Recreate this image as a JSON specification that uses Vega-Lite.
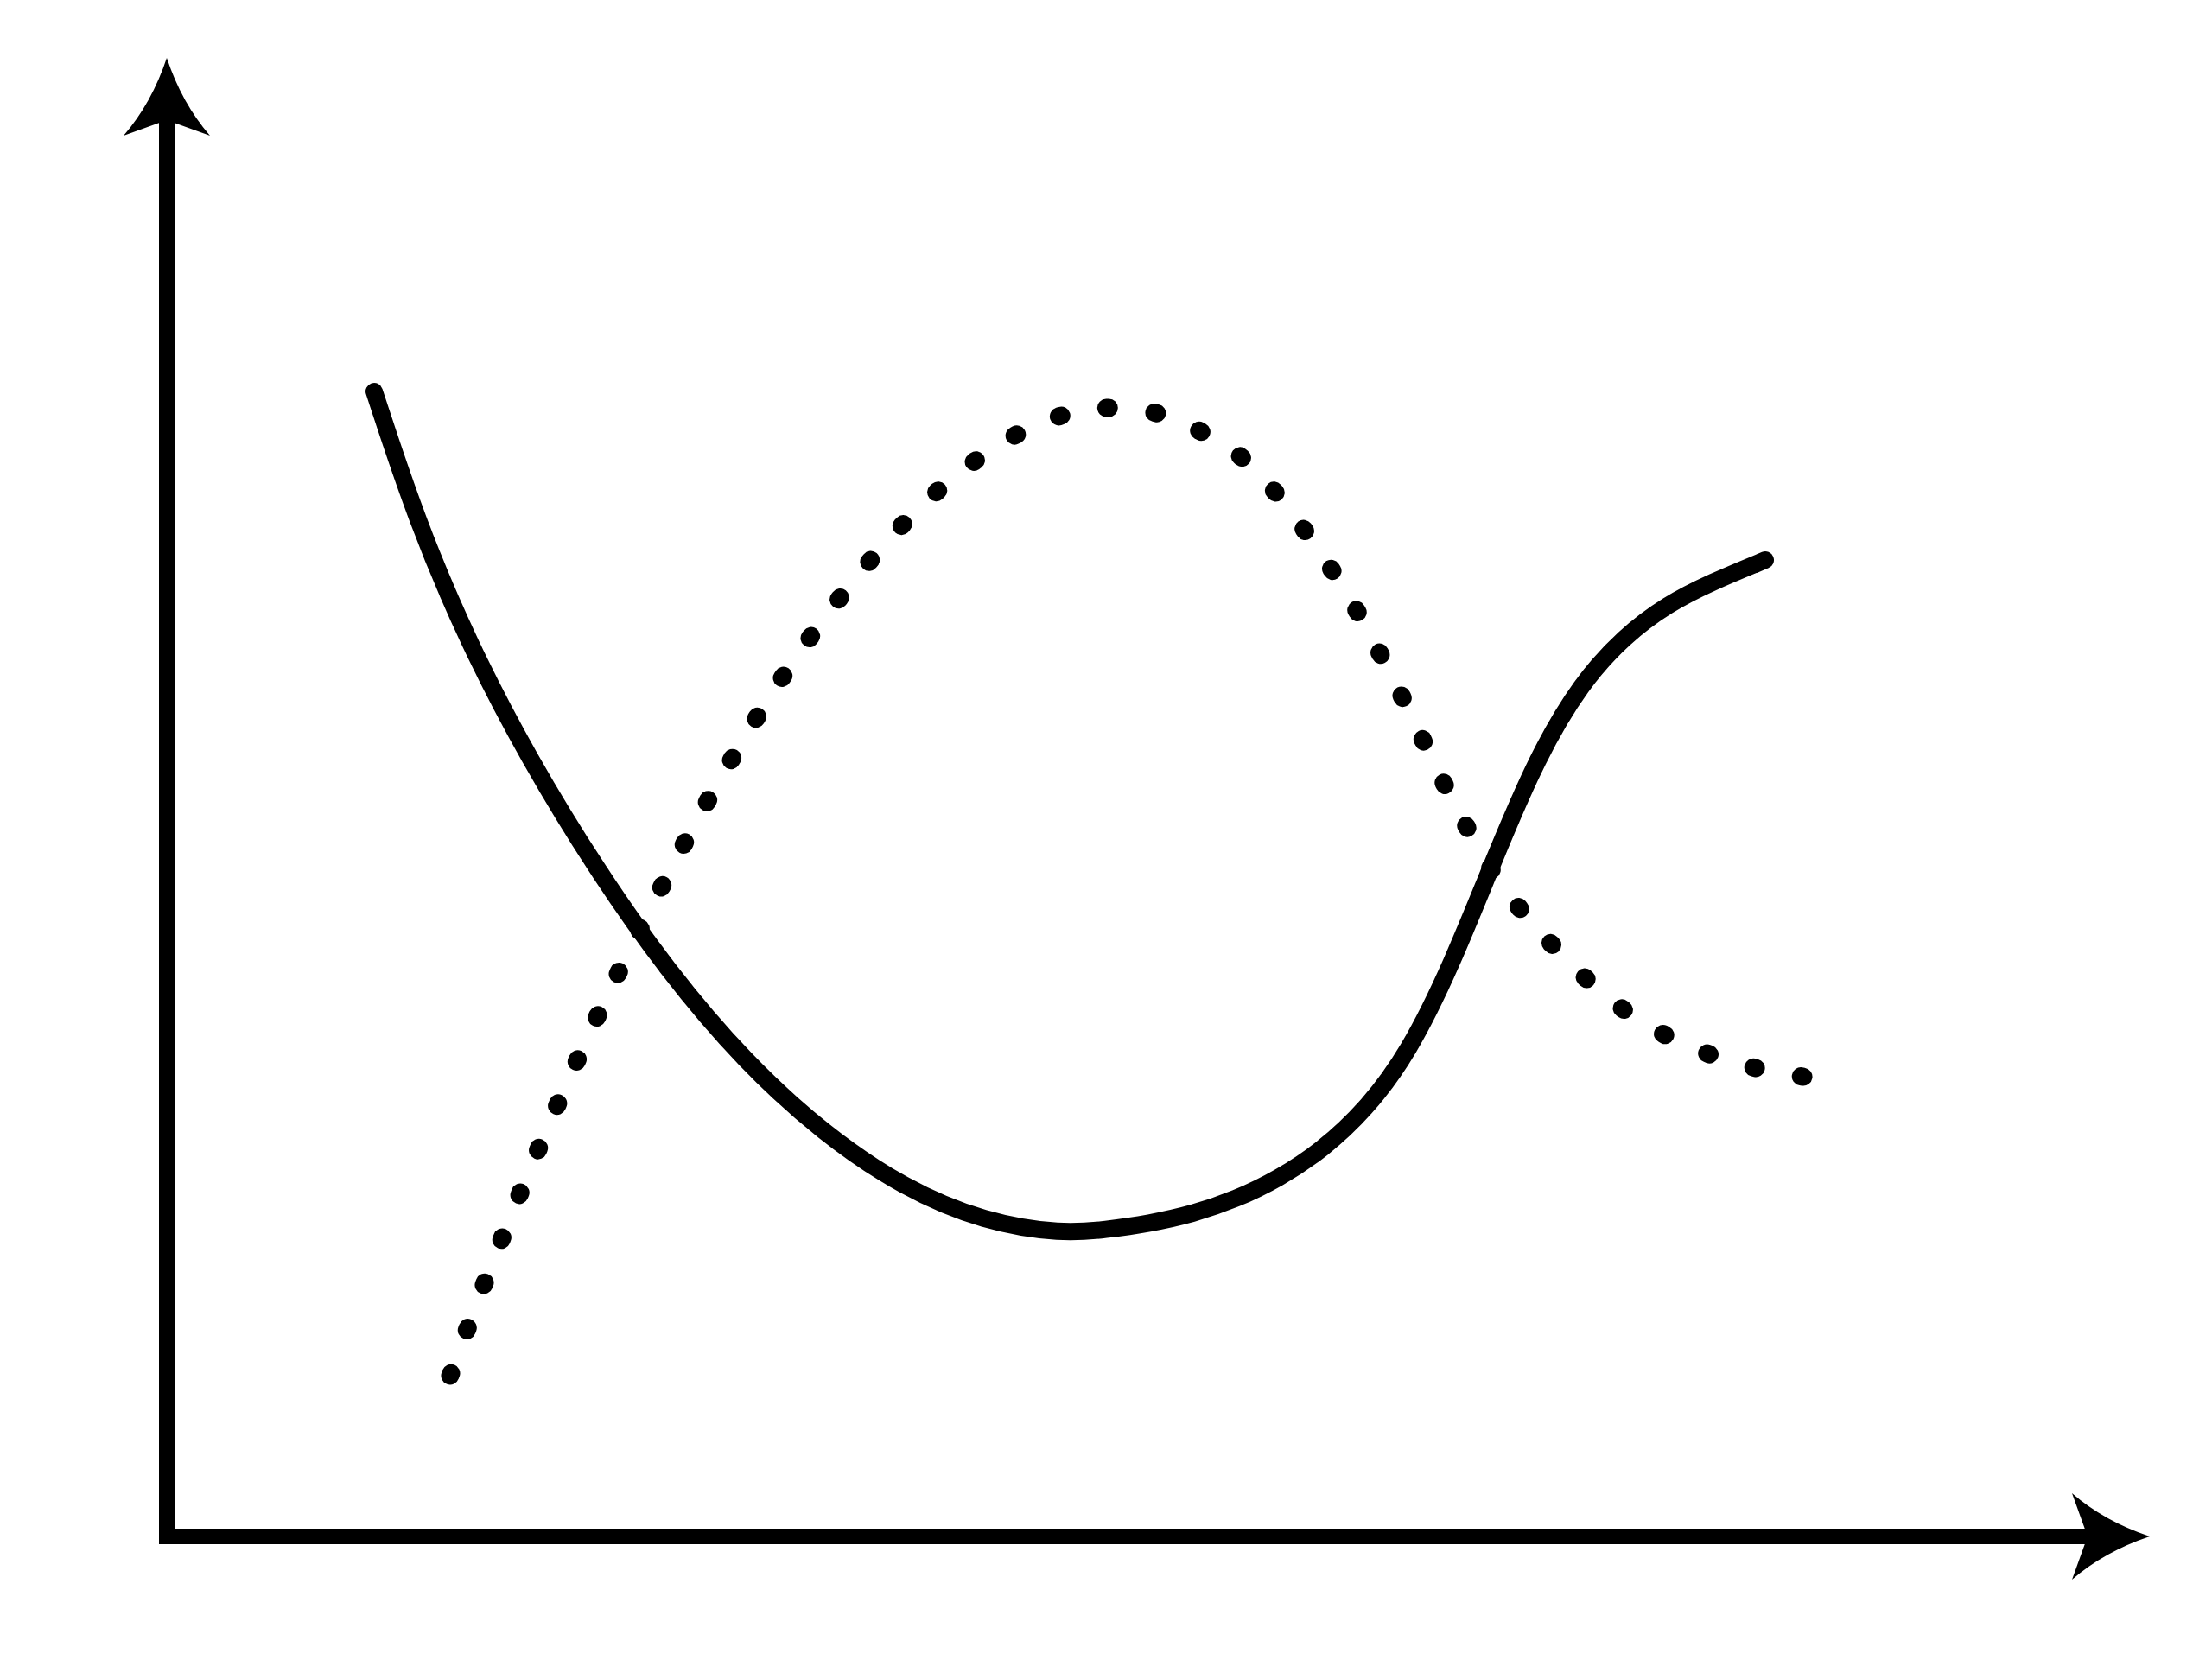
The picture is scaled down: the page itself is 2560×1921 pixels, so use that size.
{
  "$schema": "https://vega.github.io/schema/vega-lite/v6.json",
  "description": "Two sketched curves (solid and dotted) on bare arrowed axes.",
  "width": 2295,
  "height": 1711,
  "autosize": {"type": "none"},
  "padding": {"left": 193, "top": 67, "right": 72, "bottom": 143},
  "background": "white",
  "config": {"view": {"stroke": null}},
  "datasets": {
    "axes": [
      {"x": 0, "y": 0, "x2": 0, "y2": 95.3},
      {"x": 0, "y": 0, "x2": 96.5, "y2": 0}
    ],
    "heads": [
      {"x": 0, "y": 100, "dir": "up"},
      {"x": 100, "y": 0, "dir": "right"}
    ],
    "solid": [
      {"x": 10.46, "y": 77.44},
      {"x": 12.59, "y": 68.73},
      {"x": 15.25, "y": 60.32},
      {"x": 18.26, "y": 52.6},
      {"x": 21.66, "y": 45.12},
      {"x": 25.27, "y": 38.22},
      {"x": 29.15, "y": 32.09},
      {"x": 33.12, "y": 27.24},
      {"x": 37.17, "y": 23.55},
      {"x": 41.22, "y": 21.27},
      {"x": 45.19, "y": 20.46},
      {"x": 47.36, "y": 20.75},
      {"x": 49.54, "y": 21.16},
      {"x": 51.72, "y": 21.8},
      {"x": 53.9, "y": 22.79},
      {"x": 56.08, "y": 24.2},
      {"x": 58.26, "y": 26.13},
      {"x": 60.44, "y": 28.81},
      {"x": 62.61, "y": 32.67},
      {"x": 64.79, "y": 38.63},
      {"x": 66.97, "y": 45.94},
      {"x": 69.15, "y": 52.83},
      {"x": 71.33, "y": 57.74},
      {"x": 73.51, "y": 60.9},
      {"x": 75.69, "y": 63.06},
      {"x": 77.86, "y": 64.52},
      {"x": 80.61, "y": 66.04}
    ],
    "dotted": [
      {"x": 14.29, "y": 10.87},
      {"x": 15.99, "y": 17.01},
      {"x": 17.78, "y": 23.09},
      {"x": 19.69, "y": 29.16},
      {"x": 21.7, "y": 35.13},
      {"x": 23.92, "y": 41.2},
      {"x": 26.1, "y": 46.87},
      {"x": 28.5, "y": 52.6},
      {"x": 31.07, "y": 58.15},
      {"x": 33.94, "y": 63.47},
      {"x": 37.12, "y": 68.44},
      {"x": 40.78, "y": 72.76},
      {"x": 45.1, "y": 75.8},
      {"x": 47.45, "y": 76.33},
      {"x": 49.89, "y": 75.98},
      {"x": 52.11, "y": 74.75},
      {"x": 54.34, "y": 72.82},
      {"x": 57.39, "y": 68.03},
      {"x": 60.04, "y": 62.54},
      {"x": 62.31, "y": 56.75},
      {"x": 64.44, "y": 50.85},
      {"x": 66.88, "y": 44.94},
      {"x": 69.89, "y": 39.98},
      {"x": 73.51, "y": 35.59},
      {"x": 77.91, "y": 32.55},
      {"x": 82.53, "y": 31.09}
    ]
  },
  "layer": [
    {
      "data": {"name": "axes"},
      "mark": {"type": "rule", "color": "black", "strokeWidth": 18, "strokeCap": "square"},
      "encoding": {
        "x": {"field": "x", "type": "quantitative", "scale": {"domain": [0, 100], "nice": false}, "axis": null},
        "y": {"field": "y", "type": "quantitative", "scale": {"domain": [0, 100], "nice": false}, "axis": null},
        "x2": {"field": "x2"},
        "y2": {"field": "y2"}
      }
    },
    {
      "data": {"name": "heads"},
      "transform": [{"filter": "datum.dir == 'up'"}],
      "mark": {
        "type": "point",
        "filled": true,
        "color": "black",
        "opacity": 1,
        "strokeWidth": 0,
        "size": 10000,
        "shape": "M0,0 Q-0.35,1.05 -1,1.8 L0,1.44 L1,1.8 Q0.35,1.05 0,0 Z"
      },
      "encoding": {
        "x": {"field": "x", "type": "quantitative", "axis": null},
        "y": {"field": "y", "type": "quantitative", "axis": null}
      }
    },
    {
      "data": {"name": "heads"},
      "transform": [{"filter": "datum.dir == 'right'"}],
      "mark": {
        "type": "point",
        "filled": true,
        "color": "black",
        "opacity": 1,
        "strokeWidth": 0,
        "size": 10000,
        "shape": "M0,0 Q-1.05,-0.35 -1.8,-1 L-1.44,0 L-1.8,1 Q-1.05,0.35 0,0 Z"
      },
      "encoding": {
        "x": {"field": "x", "type": "quantitative", "axis": null},
        "y": {"field": "y", "type": "quantitative", "axis": null}
      }
    },
    {
      "data": {"name": "solid"},
      "mark": {"type": "line", "color": "black", "strokeWidth": 20, "strokeCap": "round", "interpolate": "basis"},
      "encoding": {
        "x": {"field": "x", "type": "quantitative", "axis": null},
        "y": {"field": "y", "type": "quantitative", "axis": null}
      }
    },
    {
      "data": {"name": "dotted"},
      "mark": {
        "type": "line",
        "color": "black",
        "strokeWidth": 21,
        "strokeCap": "round",
        "strokeDash": [3, 53],
        "interpolate": "monotone"
      },
      "encoding": {
        "x": {"field": "x", "type": "quantitative", "axis": null},
        "y": {"field": "y", "type": "quantitative", "axis": null}
      }
    }
  ]
}
